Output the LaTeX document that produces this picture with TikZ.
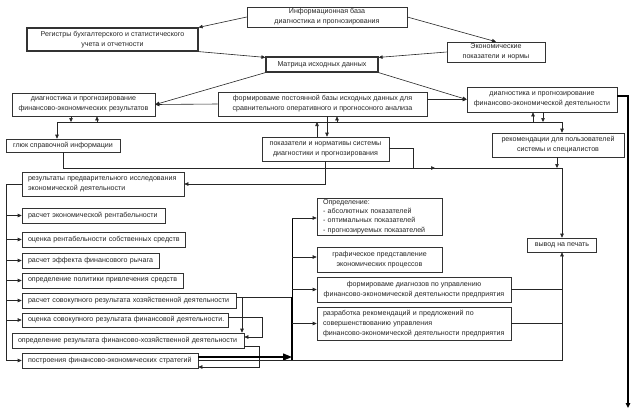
\documentclass[tikz,border=0pt]{standalone}
\usepackage{fontspec}
\setmainfont{Liberation Sans}
\usetikzlibrary{arrows.meta}
\begin{document}
\begin{tikzpicture}[x=1pt,y=-1pt,
  box/.style={draw=black!80, line width=0.6pt, inner sep=0pt, font=\fontsize{7.1}{10}\selectfont, text=black!85, align=center},
  boldbox/.style={box, line width=1.2pt},
  lbox/.style={box, align=left, inner xsep=6pt},
  ln/.style={draw=black!85, line width=0.6pt},
  arr/.style={ln, -{Triangle[length=4pt,width=3.5pt]}},
  thk/.style={draw=black, line width=1.5pt},
  thkarr/.style={thk, -{Triangle[length=5pt,width=4.5pt]}},
  bigarr/.style={draw=black, line width=1.3pt, -{Triangle[length=9pt,width=7pt]}}]
\useasboundingbox (0,0) rectangle (634,413);
\fill[white] (0,0) rectangle (634,413);

% top
\node[box, minimum width=160, minimum height=20] (info) at (327,17) {Информационная база\\диагностика и прогнозирования};
\node[boldbox, minimum width=171, minimum height=23] (reg) at (112.5,39.5) {Регистры бухгалтерского и статистического\\учета и отчетности};
\node[box, minimum width=98, minimum height=20] (econ) at (496,52) {Экономические\\показатели и нормы};
\node[boldbox, minimum width=112, minimum height=15] (matrix) at (322,64.5) {Матрица исходных данных};

\node[box, minimum width=143, minimum height=23] (dfr) at (83.5,104.5) {диагностика и прогнозирование\\финансово-экономических результатов};
\node[box, minimum width=209, minimum height=24] (form) at (322.5,104) {формироваме постоянной базы исходных данных для\\сравнительного оперативного и прогносоного анализа};
\node[box, minimum width=150, minimum height=25] (dfa) at (542,99.5) {диагностика и прогнозирование\\финансово-экономической деятельности};

\node[box, minimum width=114, minimum height=13] (glyuk) at (63,145.5) {глюк справочной информации};
\node[box, minimum width=127, minimum height=24] (ind) at (325.5,149) {показатели и нормативы системы\\диагностики и прогнозирования};
\node[box, minimum width=132, minimum height=24] (rec) at (558,145) {рекомендации для пользователей\\системы и специалистов};

% left column
\node[lbox, text width=150, minimum height=24] (res) at (103,184) {\mbox{результаты предварительного исследования}\\экономической деятельности};
\node[lbox, text width=131, minimum height=15] (r1) at (93.5,215.5) {\mbox{расчет экономической рентабельности}};
\node[lbox, text width=151, minimum height=15] (r2) at (103.5,239.5) {\mbox{оценка рентабельности собственных средств}};
\node[lbox, text width=125, minimum height=15] (r3) at (90.5,260.5) {\mbox{расчет эффекта финансового рычага}};
\node[lbox, text width=149, minimum height=15] (r4) at (102.5,280.5) {\mbox{определение политики привлечения средств}};
\node[lbox, text width=202, minimum height=15] (r5) at (129,300.5) {\mbox{расчет совокупного результата хозяйственной деятельности}};
\node[lbox, text width=194, minimum height=14] (r6) at (125,320) {\mbox{оценка совокупного результата финансовой деятельности.}};
\node[lbox, text width=220, minimum height=15] (r7) at (128,340.5) {\mbox{определение результата финансово-хозяйственной деятельности}};
\node[lbox, text width=164, minimum height=15] (r8) at (110,360.5) {\mbox{построения финансово-экономических стратегий}};

% right column
\node[lbox, text width=113, minimum height=37, font=\fontsize{7.1}{9.3}\selectfont] (def) at (379.5,216.5) {Определение:\\- абсолютных показателей\\- оптимальных показателей\\- прогнозируемых показателей};
\node[box, minimum width=125, minimum height=25] (graf) at (379.5,259.5) {графическое представление\\экономических процессов};
\node[box, minimum width=194, minimum height=25] (diagz) at (414,289.5) {формироваме диагнозов по управлению\\финансово-экономической деятельности предприятия};
\node[lbox, text width=182, minimum height=33] (razr) at (414,323.5) {разработка рекомендаций и предложений по\\совершенствованию управления\\\mbox{финансово-экономической деятельности предприятия}};
\node[box, minimum width=69, minimum height=14] (out) at (562,245) {вывод на печать};

% coordinates
\coordinate (bus1) at (57,122);
\coordinate (bus2) at (562,122);
\coordinate (bus3) at (562,168);
\coordinate (g1) at (63,168);
\coordinate (j1) at (413,168);
\coordinate (j2) at (435,168);
\coordinate (lbend) at (6,360.5);
\coordinate (vbt) at (292,218);
\coordinate (vbb) at (292,360);
\coordinate (vbm) at (292,297);
\coordinate (k5) at (242,297);
\coordinate (k6) at (262,317);
\coordinate (k7) at (259,346);
\coordinate (endv) at (628,408);

% top connectors
\draw[arr] (info.west) -- (reg.north east);
\draw[arr] (info.east) -- (econ.north);
\draw[arr] (reg.south east) -- ([yshift=-1pt]matrix.north west);
\draw[arr] (econ.west) -- ([yshift=-1pt]matrix.north east);
\draw[arr] (matrix.south west) -- (dfr.east);
\draw[arr] (matrix.south east) -- (dfa.west);
\draw[arr] (form.west) -- (dfr.east);
\draw[arr] (form.east |- dfa.west) -- (dfa.west);

% bus at y=122
\draw[ln] (bus1) -- (bus2);
\draw[arr] ([xshift=-12.5pt]dfr.south) -- ([xshift=-12.5pt]dfr.south |- bus1);
\draw[arr] ([xshift=13.5pt]dfr.south |- bus1) -- ([xshift=13.5pt]dfr.south);
\draw[arr] (bus1) -- (bus1 |- glyuk.north);
\draw[arr] ([xshift=-8.5pt]ind.north) -- ([xshift=-8.5pt]ind.north |- bus1);
\draw[arr] ([xshift=4.5pt]form.south) -- ([xshift=4.5pt]form.south |- ind.north);
\draw[arr] ([xshift=14.5pt]form.south |- bus1) -- ([xshift=14.5pt]form.south);
\draw[arr] ([xshift=-9pt]dfa.south |- bus1) -- ([xshift=-9pt]dfa.south);
\draw[arr] ([xshift=1pt]dfa.south) -- ([xshift=1pt]dfa.south |- bus1);
\draw[arr] (bus2) -- (bus2 |- rec.north);
\draw[thkarr] ([yshift=3.5pt]dfa.east) -| (endv);

% bus at y=168
\draw[ln] (glyuk.south) -- (g1) -- (bus3);
\draw[arr] ([yshift=1pt]ind.east) -| (j1) -- (j2);
\draw[arr] ([xshift=-1pt]rec.south) -- ([xshift=-1pt]rec.south |- bus3);
\draw[arr] (bus3) -- (out.north);
\draw[arr] ([xshift=-0.5pt]ind.south) |- (res.east);

% left bus
\draw[ln] (res.west) -| (lbend);
\draw[arr] (lbend |- r1.west) -- (r1.west);
\draw[arr] (lbend |- r2.west) -- (r2.west);
\draw[arr] (lbend |- r3.west) -- (r3.west);
\draw[arr] (lbend |- r4.west) -- (r4.west);
\draw[arr] (lbend |- r5.west) -- (r5.west);
\draw[arr] (lbend |- r6.west) -- (r6.west);
\draw[arr] (lbend) -- (r8.west);

% results links
\draw[ln] ([yshift=3.5pt]r5.east) -- (vbm);
\draw[arr] (k5) -- (k5 |- r7.north);
\draw[arr] ([yshift=3pt]r6.east) -- (k6) |- ([yshift=3.5pt]r7.east);
\draw[arr] ([yshift=-5.5pt]r7.east) -- (k7) |- ([yshift=-6.5pt]r8.east);

% right vertical bus
\draw[draw=black, line width=1pt] ([yshift=-1.5pt]def.west -| vbt) -- (vbm);
\draw[thk] (vbm) -- (vbb);
\draw[arr] ([yshift=-1.5pt]def.west -| vbt) -- ([yshift=-1.5pt]def.west);
\draw[arr] ([yshift=2.5pt]graf.west -| vbt) -- ([yshift=2.5pt]graf.west);
\draw[arr] (diagz.west -| vbt) -- (diagz.west);
\draw[arr] (razr.west -| vbt) -- (razr.west);
\draw[bigarr] ([yshift=3.5pt]r8.east) -- ([yshift=3.5pt]r8.east -| vbb);
\draw[arr] (r8.east) -| (out.south);
\draw[ln] (diagz.east) -- (diagz.east -| out.south);
\draw[ln] (razr.east) -- (razr.east -| out.south);
\end{tikzpicture}
\end{document}
